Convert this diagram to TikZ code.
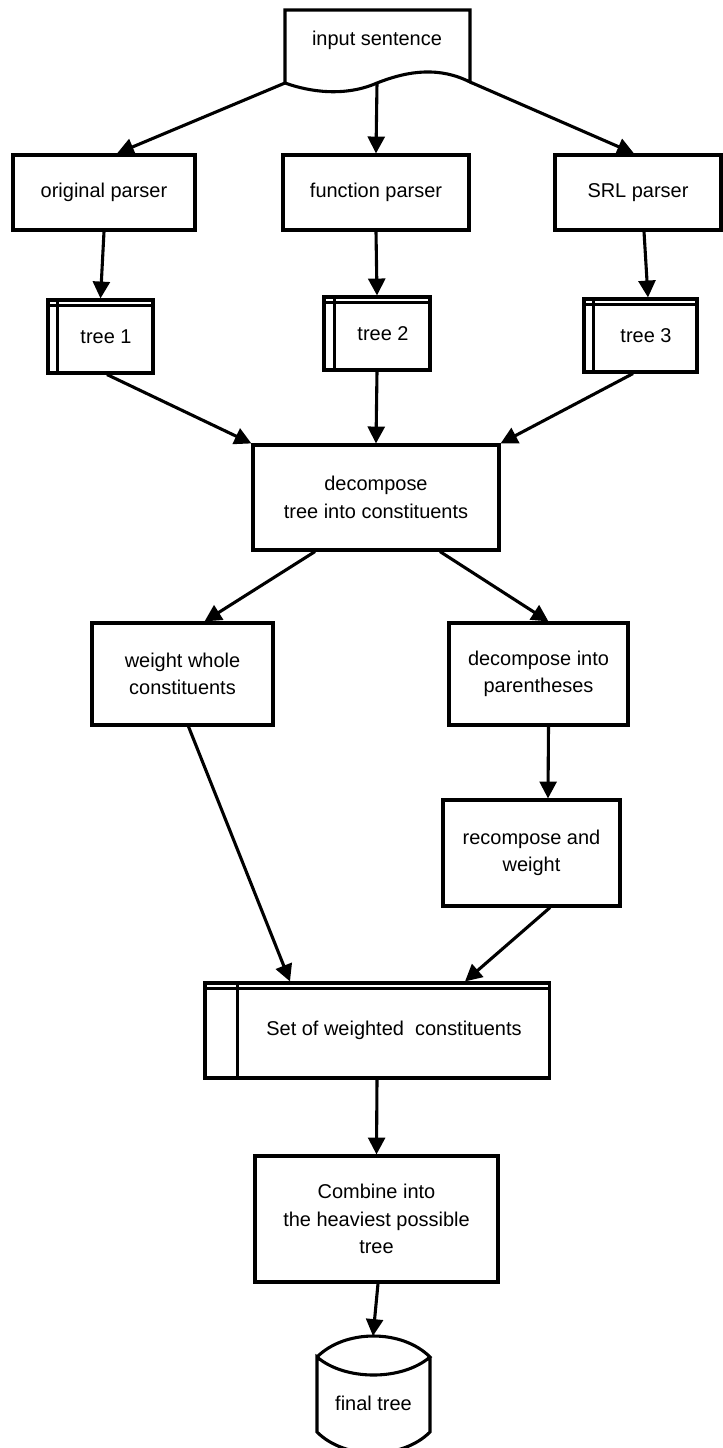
\documentclass[tikz,border=0pt]{standalone}
\usepackage{fontspec}
\setmainfont{Liberation Sans}
\usetikzlibrary{arrows.meta,calc}

\begin{document}
\begin{tikzpicture}[x=0.025cm, y=-0.025cm, line width=2.2pt,
    every node/.style={font=\fontsize{14.2}{19.5}\selectfont, align=center},
    box/.style={draw, rectangle, inner sep=0pt},
    flow/.style={-{Triangle[length=12pt,width=12pt]}}]
  \useasboundingbox (0,0) rectangle (723,1448);
  \clip (0,0) rectangle (723,1448);
  % ---------- input sentence (document shape) ----------
  \node (input) at (377,40) {input sentence};
  \coordinate (in-l) at (285,83);
  \coordinate (in-m) at (377,83);
  \coordinate (in-r) at (470,82);
  \draw (in-l) -- (285,10) -- (470,10) -- (in-r)
    .. controls (440,67) and (410,70) .. (in-m)
    .. controls (345,97) and (310,92) .. (in-l);
  % ---------- parsers ----------
  \node[box, minimum width=4.55cm, minimum height=1.875cm] (orig) at (104,192.5) {original parser};
  \node[box, minimum width=4.65cm, minimum height=1.875cm] (func) at (376,192.5) {function parser};
  \node[box, minimum width=4.15cm, minimum height=1.875cm] (srl) at (638,192.5) {SRL parser};
  \draw[flow] (in-l) -- ($(orig.north)+(13,0)$);
  \draw[flow] (in-m) -- (func.north);
  \draw[flow] (in-r) -- ($(srl.north)+(-4,0)$);
  % ---------- parse trees ----------
  \node[box, minimum width=2.625cm, minimum height=1.825cm] (t1) at (100.5,336.5) {\hspace*{0.275cm}tree 1};
  \node[box, minimum width=2.65cm, minimum height=1.825cm] (t2) at (377,333.5) {\hspace*{0.3cm}tree 2};
  \node[box, minimum width=2.825cm, minimum height=1.825cm] (t3) at (640.5,335.5) {\hspace*{0.275cm}tree 3};
  \draw[flow] (orig.south) -- (t1.north);
  \draw[flow] (func.south) -- (t2.north);
  \draw[flow] ($(srl.south)+(6,0)$) -- ($(t3.north)+(7.5,0)$);
  % ---------- decomposition ----------
  \node[box, minimum width=6.15cm, minimum height=2.625cm] (dec) at (376,497.5) {decompose\\tree into constituents};
  \draw[flow] ($(t1.south)+(6.5,0)$) -- (dec.north west);
  \draw[flow] (t2.south) -- (dec.north);
  \draw[flow] ($(t3.south)+(-7.5,0)$) -- (dec.north east);
  \node[box, minimum width=4.525cm, minimum height=2.55cm] (whole) at (182.5,674) {weight whole\\constituents};
  \node[box, minimum width=4.475cm, minimum height=2.55cm] (paren) at (538.5,674) {decompose into\\parentheses};
  \node[box, minimum width=4.425cm, minimum height=2.65cm] (recomp) at (531.5,853) {recompose and\\weight};
  \draw[flow] ($(dec.south)+(-61,0)$) -- ($(whole.north)+(22,0)$);
  \draw[flow] ($(dec.south)+(64,0)$) -- ($(paren.north)+(10,0)$);
  \draw[flow] ($(paren.south)+(10,0)$) -- ($(recomp.north)+(16.5,0)$);
  % ---------- weighted constituents and combination ----------
  \node[box, minimum width=8.6cm, minimum height=2.375cm] (set) at (377,1030.5) {\hspace*{0.85cm}Set of weighted\ \ constituents};
  \draw[flow] ($(whole.south)+(6,0)$) -- ($(set.north)+(-87,0)$);
  \draw[flow] ($(recomp.south)+(18.5,0)$) -- ($(set.north)+(88,0)$);
  % double rule on the stored-data boxes
  \foreach \n/\d in {t1/11, t2/12, t3/11, set/34} {
    \draw ($(\n.north west)+(0,7)$) -- ($(\n.north east)+(0,7)$);
    \draw ($(\n.north west)+(\d,0)$) -- ($(\n.south west)+(\d,0)$);
  }
  \node[box, minimum width=6.075cm, minimum height=3.15cm] (comb) at (376.5,1219) {Combine into\\the heaviest possible\\tree};
  \draw[flow] (set.south) -- (comb.north);
  % ---------- final tree (database shape) ----------
  \node (final) at (373.5,1403) {final tree};
  \coordinate (final-top) at (373,1336);
  \draw (317,1357) .. controls (345,1329) and (402,1329) .. (430,1357)
    .. controls (402,1381) and (345,1381) .. (317,1357) -- (317,1432)
    .. controls (345,1460) and (402,1460) .. (430,1432) -- (430,1357);
  \draw[flow] ($(comb.south)+(1.5,0)$) -- (final-top);
\end{tikzpicture}
\end{document}
